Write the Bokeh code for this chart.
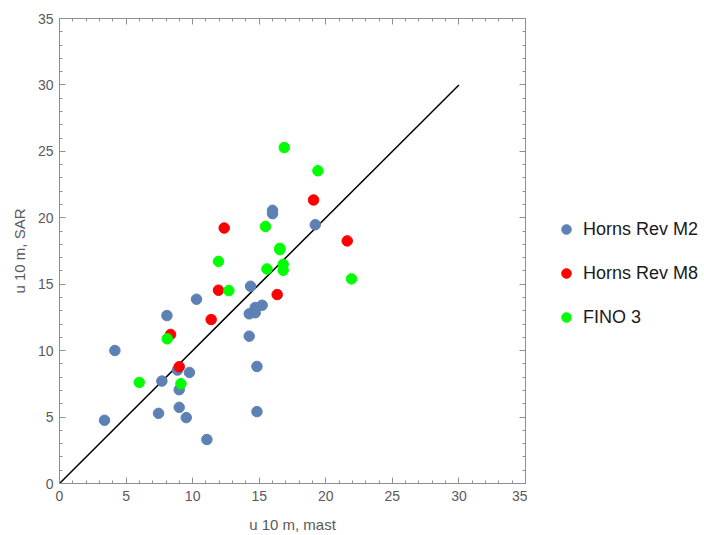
from bokeh.plotting import figure
from bokeh.layouts import row
from bokeh.models import (Range1d, LinearAxis, SingleIntervalTicker, Legend, LegendItem,
                          CustomJSTickFormatter)
from bokeh.embed import file_html
from bokeh.resources import INLINE

# ---- data ----
m2_x = [3.38, 4.16, 7.69, 7.44, 8.86, 8.99, 8.99, 9.76, 9.52, 11.07, 14.25, 14.83, 14.83,
        8.07, 10.29, 14.35, 14.25, 14.70, 14.70, 15.22, 16.0, 16.0, 19.21]
m2_y = [4.76, 10.01, 7.71, 5.28, 8.54, 7.06, 5.73, 8.36, 4.96, 3.31, 11.09, 8.81, 5.41,
        12.64, 13.87, 14.85, 12.77, 13.25, 12.85, 13.42, 20.56, 20.31, 19.48]
m8_x = [8.34, 8.99, 11.39, 12.37, 11.94, 16.35, 19.08, 21.61]
m8_y = [11.22, 8.79, 12.34, 19.23, 14.55, 14.22, 21.34, 18.26]
fino_x = [5.99, 8.09, 9.12, 16.88, 19.41, 15.47, 11.94, 12.72, 16.55, 16.55, 15.58, 16.80, 16.80, 21.93]
fino_y = [7.61, 10.89, 7.51, 25.29, 23.54, 19.35, 16.72, 14.52, 17.70, 17.60, 16.15, 16.50, 16.05, 15.40]
line_xy = [0, 30]
series_names = ["Horns Rev M2", "Horns Rev M8", "FINO 3"]
series_colors = ["#5E81B5", "#FF0000", "#00FF00"]
series_x = [m2_x, m8_x, fino_x]
series_y = [m2_y, m8_y, fino_y]

FONT = "Liberation Sans"
FRAME = "#8f8f8f"
H = 535

p = figure(width=527, height=H, output_backend="svg", toolbar_location=None,
           x_range=Range1d(0, 35), y_range=Range1d(0, 35),
           min_border_left=59, min_border_right=2, min_border_top=18, min_border_bottom=51,
           x_axis_label="u 10 m, mast", y_axis_label="u 10 m, SAR")
p.outline_line_color = None
p.xgrid.visible = False
p.ygrid.visible = False

def style_axis(ax, labels=True):
    ax.ticker = SingleIntervalTicker(interval=5, num_minor_ticks=5)
    ax.axis_line_color = FRAME
    ax.axis_line_width = 1
    ax.major_tick_line_color = FRAME
    ax.minor_tick_line_color = FRAME
    ax.major_tick_in = 6
    ax.major_tick_out = 0
    ax.minor_tick_in = 3
    ax.minor_tick_out = 0
    ax.major_label_text_font = FONT
    ax.major_label_text_font_size = "14px"
    ax.major_label_text_color = "#5a5a5a"
    ax.axis_label_text_font = FONT
    ax.axis_label_text_font_size = "15px"
    ax.axis_label_text_font_style = "normal"
    ax.axis_label_text_color = "#5a5a5a"
    if not labels:
        ax.formatter = CustomJSTickFormatter(code="return ''")
        ax.major_label_standoff = 0

xa = p.xaxis[0]
ya = p.yaxis[0]
style_axis(xa)
style_axis(ya)
xa.major_label_standoff = 7
xa.axis_label_standoff = 12
ya.major_label_standoff = 6
ya.axis_label_standoff = 7

top = LinearAxis()
right = LinearAxis()
style_axis(top, labels=False)
style_axis(right, labels=False)
p.add_layout(top, "above")
p.add_layout(right, "right")

p.line(line_xy, line_xy, line_color="black", line_width=1.5)
for xs, ys, c in zip(series_x, series_y, series_colors):
    p.scatter(xs, ys, size=10.5, fill_color=c, line_color=c)

# legend panel (separate figure to the right of the plot)
q = figure(width=704 - 527, height=H, output_backend="svg", toolbar_location=None,
           x_range=Range1d(0, 35), y_range=Range1d(0, 35),
           x_axis_type=None, y_axis_type=None, min_border=0)
q.outline_line_color = None
q.xgrid.visible = False
q.ygrid.visible = False
items = []
for name, xs, ys, c in zip(series_names, series_x, series_y, series_colors):
    r = q.scatter(xs, ys, size=10, fill_color=c, line_color=c, visible=False)
    items.append(LegendItem(label=name, renderers=[r]))
legend = Legend(items=items, location=(27, 154), orientation="vertical",
                border_line_color=None, background_fill_alpha=0,
                inactive_fill_alpha=0, click_policy="none",
                padding=0, margin=0, spacing=20,
                glyph_width=24, glyph_height=24, label_height=24, label_standoff=5,
                label_text_font=FONT, label_text_font_size="18px", label_text_color="#1a1a1a")
q.add_layout(legend)

layout = row(p, q)
open("out.html", "w").write(file_html(layout, INLINE))
